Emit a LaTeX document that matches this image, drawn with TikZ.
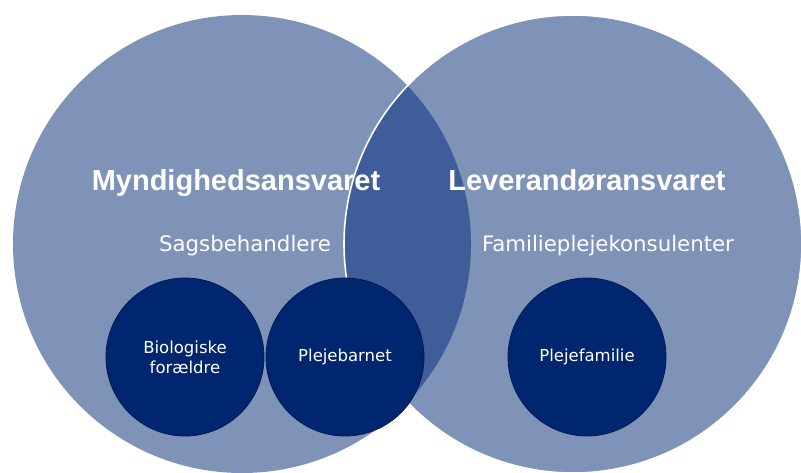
\documentclass[tikz,border=0pt]{standalone}
\usepackage{fontspec}
\usepackage{xcolor}
\setmainfont{DejaVu Sans}
\newfontfamily\headfont{Liberation Sans}
\definecolor{ansvar}{HTML}{7F93B8}
\definecolor{faelles}{HTML}{3F5D99}
\definecolor{aktoer}{HTML}{00266F}
\definecolor{aktoerkant}{HTML}{001B52}
\usetikzlibrary{positioning}

\begin{document}
\begin{tikzpicture}[x=1pt,y=-1pt,
		ansvarcirkel/.style={circle,fill=ansvar,minimum size=458pt,inner sep=0pt},
		aktoercirkel/.style={circle,fill=aktoer,draw=aktoerkant,line width=0.8pt,minimum size=158pt,inner sep=0pt,
			text=white,align=center,font=\fontsize{16.5}{20}\selectfont},
		overskrift/.style={text=white,anchor=base,font=\headfont\bfseries\fontsize{29}{32}\selectfont},
		rolle/.style={text=white,anchor=base,font=\fontsize{21.3}{24}\selectfont}]
		\useasboundingbox (0,0) rectangle (801,472);
		\node[ansvarcirkel] (M) at (242,244) {};
		\node[ansvarcirkel] (L) at (573,244) {};
		%
		\begin{scope}
		\clip (M.center) circle (229);
		\fill[faelles] (L.center) circle (229);
		\end{scope}
		\draw[white,line width=1.6pt] (L.center) circle (229);
		%
		\node[overskrift] (mynd) at (236,190) {Myndighedsansvaret};
		\node[overskrift] (lev) at (587,190) {Leverandøransvaret};
		\node[rolle] (sags) at (245,251) {Sagsbehandlere};
		\node[rolle] (konsulent) at (608,251) {Familieplejekonsulenter};
		%
		\node[aktoercirkel] (bio) at (185,357) {Biologiske\\forældre};
		\node[aktoercirkel] (barn) at (345,357) {Plejebarnet};
		\node[aktoercirkel] (familie) at (587,357) {Plejefamilie};
		\end{tikzpicture}
\end{document}
